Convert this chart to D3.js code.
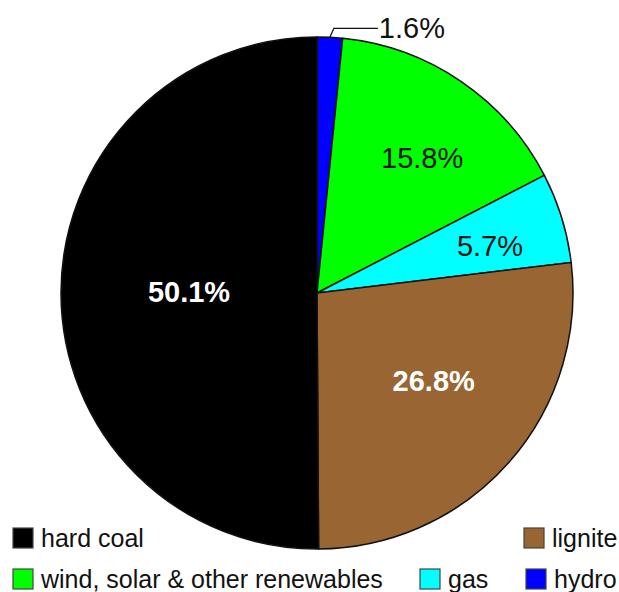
<!DOCTYPE html>
<html>
<head>
<meta charset="utf-8">
<script src="https://cdn.jsdelivr.net/npm/d3@7"></script>
<style>
  body { margin: 0; background: #fff; }
  svg { display: block; font-family: "Liberation Sans", Arial, sans-serif; }
</style>
</head>
<body>
<svg id="chart" width="619" height="592"></svg>
<script>
// share of generation, clockwise from 12 o'clock
var sources = ["hydro", "wind, solar & other renewables", "gas", "lignite", "hard coal"];
var shares = [1.6, 15.8, 5.7, 26.8, 50.1];
var colours = ["#0000ff", "#00ff00", "#00ffff", "#996633", "#000000"];

var svg = d3.select("#chart");
var cx = 317, cy = 293, R = 256;

var color = d3.scaleOrdinal().domain(sources).range(colours);

var pie = d3.pie().sort(null).value(function(d) { return d.v; });
var arcs = pie(sources.map(function(s, i) { return { name: s, v: shares[i] }; }));
var arc = d3.arc().innerRadius(0).outerRadius(R);

var g = svg.append("g").attr("transform", "translate(" + cx + "," + cy + ")");

g.selectAll("path.slice")
  .data(arcs)
  .enter().append("path")
  .attr("class", "slice")
  .attr("d", arc)
  .attr("fill", function(d) { return color(d.data.name); })
  .attr("stroke", "#111")
  .attr("stroke-width", 1.5)
  .attr("stroke-linejoin", "round");

// label placement: radius as fraction of R, small angle nudge in degrees
var labelR = [0, 0.67, 0.70, 0.57, 0.50];
var labelNudge = [0, 3.6, 1.9, -4.5, 0.9];
var labelWhite = [false, false, false, true, true];

arcs.forEach(function(d, i) {
  var txt = d.data.v.toFixed(1) + "%";
  var a = (d.startAngle + d.endAngle) / 2;
  if (i === 0) {
    var x0 = Math.sin(a) * R, y0 = -Math.cos(a) * R;
    g.append("path")
      .attr("d", "M" + x0 + "," + y0 + "L" + (x0 + 4) + "," + (y0 - 9) + "L" + (x0 + 48) + "," + (y0 - 9))
      .attr("fill", "none")
      .attr("stroke", "#111")
      .attr("stroke-width", 1.3);
    g.append("text")
      .attr("x", x0 + 49)
      .attr("y", y0 - 9)
      .attr("dy", "0.35em")
      .attr("font-size", 29)
      .attr("fill", "#111")
      .text(txt);
    return;
  }
  var la = a + labelNudge[i] * Math.PI / 180, lr = R * labelR[i];
  g.append("text")
    .attr("x", Math.sin(la) * lr)
    .attr("y", -Math.cos(la) * lr)
    .attr("dy", "0.35em")
    .attr("text-anchor", "middle")
    .attr("font-size", 29)
    .attr("font-weight", labelWhite[i] ? "bold" : "normal")
    .attr("fill", labelWhite[i] ? "#fff" : "#111")
    .text(txt);
});

// legend
var legendItems = [
  { name: "hard coal", x: 13, y: 528 },
  { name: "lignite", x: 524, y: 528 },
  { name: "wind, solar & other renewables", x: 13, y: 569 },
  { name: "gas", x: 420, y: 569 },
  { name: "hydro", x: 526, y: 569 }
];
var lg = svg.append("g").attr("class", "legend");
legendItems.forEach(function(it) {
  lg.append("rect")
    .attr("x", it.x)
    .attr("y", it.y)
    .attr("width", 20)
    .attr("height", 20)
    .attr("fill", color(it.name))
    .attr("stroke", "#444")
    .attr("stroke-width", 1.2);
  lg.append("text")
    .attr("x", it.x + 28)
    .attr("y", it.y + 19)
    .attr("font-size", 25)
    .attr("fill", "#111")
    .text(it.name);
});
</script>
</body>
</html>
